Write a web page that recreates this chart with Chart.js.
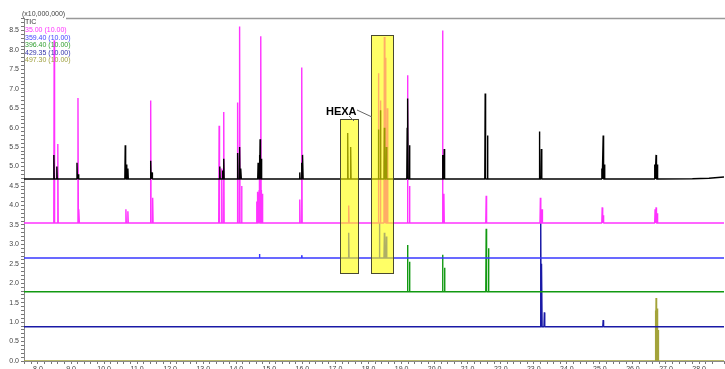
<!DOCTYPE html>
<html>
<head>
<meta charset="utf-8">
<script src="https://cdn.jsdelivr.net/npm/chart.js@4.4.1/dist/chart.umd.min.js"></script>
<style>
  html, body { margin: 0; padding: 0; background: #fff; overflow: hidden; }
  #wrap { position: relative; width: 725px; height: 378px; }
</style>
</head>
<body>
<div id="wrap"><canvas id="chrom"></canvas></div>
<script>
// axis ranges: retention time (min) and intensity (x10,000,000)
const timeRange = [7.577, 28.755];
const intensityRange = [0, 8.82];

// traces (TIC + selected ions), drawn stacked on their own baselines
const traceNames = ['TIC', '35.00 (10.00)', '359.40 (10.00)', '396.40 (10.00)', '429.35 (10.00)', '497.30 (10.00)'];
const traceColors = ['#000000', '#ff33ff', '#3838ff', '#119911', '#1a1aa6', '#a3a33a'];
const legendColors = ['#333333', '#ff33ff', '#4444ff', '#33a033', '#3333aa', '#a0a040'];
const baselines = [4.68, 3.55, 2.65, 1.78, 0.88, 0.0];

// peaks as [retention time, apex intensity]
const ticPeaks = [
  [8.48, 5.30], [8.57, 5.00], [9.18, 5.10], [9.22, 4.80],
  [10.64, 5.55], [10.68, 5.05], [10.72, 4.95],
  [11.41, 5.15], [11.45, 4.85],
  [13.50, 5.00], [13.58, 4.90], [13.62, 5.20],
  [14.04, 5.35], [14.10, 5.50], [14.14, 4.95],
  [14.66, 5.10], [14.70, 5.30], [14.72, 5.70], [14.76, 5.20],
  [15.92, 4.85], [15.98, 5.10], [16.01, 5.30],
  [17.37, 5.86], [17.46, 5.50],
  [18.30, 5.95], [18.36, 6.45], [18.48, 6.00], [18.54, 5.50],
  [19.17, 6.00], [19.19, 6.75], [19.24, 5.55],
  [20.24, 5.30], [20.29, 5.45],
  [21.53, 6.88], [21.60, 5.80],
  [23.17, 5.90], [23.23, 5.45],
  [25.06, 4.95], [25.10, 5.80], [25.14, 5.05],
  [26.66, 5.05], [26.70, 5.30], [26.74, 5.05]
];
const ticDrift = [[27.80, 4.685], [28.30, 4.70], [28.755, 4.73]];

const ion35Peaks = [
  [8.49, 8.25], [8.60, 5.58], [9.21, 6.76], [9.24, 3.90],
  [10.66, 3.90], [10.72, 3.85],
  [11.41, 6.70], [11.47, 4.20],
  [13.48, 6.05], [13.56, 4.95], [13.62, 6.40],
  [14.04, 6.65], [14.10, 8.60], [14.16, 4.50],
  [14.62, 4.10], [14.65, 4.35], [14.67, 4.20], [14.69, 4.40], [14.70, 4.90],
  [14.74, 8.35], [14.76, 4.40], [14.79, 4.30],
  [15.92, 4.15], [15.98, 7.55],
  [17.40, 4.00],
  [18.30, 7.40], [18.36, 6.70], [18.48, 8.33], [18.51, 7.80], [18.57, 6.50],
  [19.18, 7.35], [19.24, 4.50],
  [20.24, 8.50], [20.28, 4.30],
  [21.56, 4.25],
  [23.20, 4.20], [23.25, 3.90],
  [25.07, 3.95], [25.10, 3.75],
  [26.67, 3.90], [26.70, 3.95], [26.74, 3.80]
];
const ion359Peaks = [[14.70, 2.75], [15.98, 2.72], [17.40, 3.30], [18.33, 3.55], [18.48, 3.30], [18.54, 3.20]];
const ion396Peaks = [[19.18, 2.98], [19.24, 2.55], [20.24, 2.73], [20.30, 2.40], [21.56, 3.40], [21.63, 2.90]];
const ion429Peaks = [[23.21, 3.75], [23.24, 2.50], [23.32, 1.25], [25.10, 1.05]];
const ion497Peaks = [[26.68, 1.30], [26.70, 1.62], [26.73, 1.35], [26.76, 0.80]];

// highlighted HEXA windows: [t start, t end, low, high]
const hexaWindows = [[17.15, 17.67, 2.26, 6.22], [18.09, 18.73, 2.26, 8.38]];

const halfWidth = 0.012;

function buildTrace(base, peaks, tail) {
  const pts = [{ x: timeRange[0], y: base }];
  peaks.slice().sort((a, b) => a[0] - b[0]).forEach(([t, h]) => {
    pts.push({ x: t - halfWidth, y: base }, { x: t, y: h }, { x: t + halfWidth, y: base });
  });
  if (tail) tail.forEach(([t, v]) => pts.push({ x: t, y: v }));
  else pts.push({ x: timeRange[1], y: base });
  return pts;
}

const peakLists = [ticPeaks, ion35Peaks, ion359Peaks, ion396Peaks, ion429Peaks, ion497Peaks];

const datasets = traceNames.map((name, i) => ({
  label: name,
  data: buildTrace(baselines[i], peakLists[i], i === 0 ? ticDrift : null),
  borderColor: traceColors[i],
  borderWidth: 1.4,
  borderJoinStyle: 'bevel',
  pointRadius: 0,
  tension: 0,
  fill: false
}));

const FONT = '"Liberation Sans", Arial, sans-serif';

const decorations = {
  id: 'decorations',
  afterDatasetsDraw(chart) {
    const { ctx, scales: { x, y } } = chart;
    ctx.save();
    hexaWindows.forEach(([t0, t1, lo, hi]) => {
      const l = Math.round(x.getPixelForValue(t0)), r = Math.round(x.getPixelForValue(t1));
      const tp = Math.round(y.getPixelForValue(hi)), bt = Math.round(y.getPixelForValue(lo));
      ctx.fillStyle = 'rgba(255,255,0,0.6)';
      ctx.fillRect(l, tp, r - l, bt - tp);
      ctx.strokeStyle = '#4a4a30';
      ctx.lineWidth = 1;
      ctx.strokeRect(l + 0.5, tp + 0.5, r - l, bt - tp);
    });

    // HEXA label with leader lines
    ctx.fillStyle = '#000';
    ctx.font = 'bold 11px ' + FONT;
    ctx.textBaseline = 'middle';
    ctx.textAlign = 'left';
    ctx.fillText('HEXA', 326, 112);
    ctx.strokeStyle = '#666';
    ctx.lineWidth = 1;
    ctx.beginPath();
    ctx.moveTo(349, 116); ctx.lineTo(354, 121);
    ctx.moveTo(357, 110); ctx.lineTo(372, 117);
    ctx.stroke();
    ctx.restore();
  },
  afterDraw(chart) {
    const { ctx } = chart;
    ctx.save();
    // top frame line
    ctx.strokeStyle = '#999';
    ctx.lineWidth = 1.5;
    ctx.beginPath();
    ctx.moveTo(66, 18.5); ctx.lineTo(725, 18.5);
    ctx.stroke();
    // multiplier
    ctx.font = '7px ' + FONT;
    ctx.textBaseline = 'middle';
    ctx.textAlign = 'left';
    ctx.fillStyle = '#444';
    ctx.fillText('(x10,000,000)', 22, 14.5);
    // trace legend
    traceNames.forEach((name, i) => {
      ctx.fillStyle = legendColors[i];
      ctx.fillText(name, 25, 22.5 + 7.6 * i);
    });
    ctx.restore();
  }
};

Chart.defaults.font.family = FONT;

new Chart(document.getElementById('chrom'), {
  type: 'line',
  data: { datasets },
  options: {
    responsive: true,
    maintainAspectRatio: false,
    animation: false,
    devicePixelRatio: 1,
    layout: { padding: { top: 18, right: 0, left: 0, bottom: 0 } },
    plugins: { legend: { display: false }, tooltip: { enabled: false } },
    scales: {
      x: {
        type: 'linear',
        min: timeRange[0],
        max: timeRange[1],
        afterFit: s => { s.height = 17; },
        grid: { drawOnChartArea: false, tickLength: 3, color: '#777', tickColor: '#777' },
        border: { color: '#888', width: 1 },
        ticks: {
          stepSize: 0.2,
          autoSkip: false,
          maxRotation: 0,
          maxTicksLimit: 1000,
          padding: 1,
          color: '#444',
          font: { size: 7 },
          callback: v => Math.abs(v - Math.round(v)) < 1e-6 ? v.toFixed(1) : ''
        }
      },
      y: {
        min: intensityRange[0],
        max: intensityRange[1],
        afterFit: s => { s.width = 24; },
        grid: { drawOnChartArea: false, tickLength: 3, color: '#777', tickColor: '#777' },
        border: { color: '#888', width: 1 },
        ticks: {
          stepSize: 0.1,
          autoSkip: false,
          maxTicksLimit: 1000,
          padding: 2,
          color: '#444',
          font: { size: 7 },
          callback: v => Math.round(v * 10) % 5 === 0 ? v.toFixed(1) : ''
        }
      }
    }
  },
  plugins: [decorations]
});
</script>
</body>
</html>
